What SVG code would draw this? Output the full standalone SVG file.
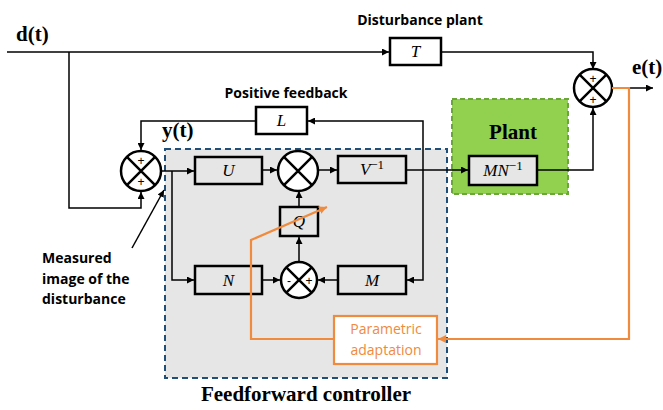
<svg xmlns="http://www.w3.org/2000/svg" width="663" height="410" viewBox="0 0 663 410">
<style>
.blk{fill:#fff;stroke:#000;stroke-width:2.5}
.gblk{fill:#e6e6e6;stroke:#000;stroke-width:2.5}
.ln{fill:none;stroke:#000;stroke-width:1.5}
.or{fill:none;stroke:#f08a3c;stroke-width:2.2}
.sum{fill:#fff;stroke:#000;stroke-width:2.5}
.x{stroke:#000;stroke-width:2.5}
.math{font-family:"Liberation Serif",serif;font-style:italic;font-size:17px;text-anchor:middle}
.big{font-family:"Liberation Serif",serif;font-weight:bold;font-size:21px}
.lab{font-family:"Open Sans","Liberation Sans",sans-serif;font-weight:bold;font-size:14px}
.sg{font-family:"Liberation Sans",sans-serif;font-size:12px;text-anchor:middle}
.ot{font-family:"Open Sans","Liberation Sans",sans-serif;font-size:14px;fill:#f08a3c;text-anchor:middle}
</style>
<defs>
<marker id="ar" viewBox="0 0 10 10" refX="10" refY="5" markerWidth="7" markerHeight="7" markerUnits="userSpaceOnUse" orient="auto"><path d="M0,0L10,5L0,10z" fill="#000"/></marker>
<marker id="ao" viewBox="0 0 10 10" refX="10" refY="5" markerWidth="8" markerHeight="8" markerUnits="userSpaceOnUse" orient="auto"><path d="M0,0L10,5L0,10z" fill="#f08a3c"/></marker>
</defs>
<rect width="663" height="410" fill="#fff"/>

<g id="feedforward">
<rect x="165" y="149" width="282" height="229" fill="#e6e6e6" stroke="#1f4e79" stroke-width="2" stroke-dasharray="6,4"/>
<text class="big" x="306" y="401" text-anchor="middle">Feedforward controller</text>
</g>

<g id="plant">
<rect x="452" y="99" width="116" height="95" fill="#92d050" stroke="#6aa638" stroke-width="2" stroke-dasharray="5,3"/>
<text class="big" x="513" y="139" text-anchor="middle">Plant</text>
</g>

<g id="labels">
<text class="big" x="16" y="41">d(t)</text>
<text class="big" x="632" y="74">e(t)</text>
<text class="big" x="162" y="137">y(t)</text>
<text class="lab" x="420" y="25" text-anchor="middle">Disturbance plant</text>
<text class="lab" x="286" y="98" text-anchor="middle">Positive feedback</text>
<text class="lab" x="42" y="263">Measured</text>
<text class="lab" x="42" y="284">image of the</text>
<text class="lab" x="42" y="304">disturbance</text>
</g>

<g id="T"><rect class="blk" x="390" y="38" width="51" height="27"/><text class="math" x="415.5" y="57">T</text></g>
<g id="L"><rect class="blk" x="256" y="107" width="51" height="27"/><text class="math" x="281.5" y="126">L</text></g>
<g id="U"><rect class="gblk" x="195" y="157" width="67" height="27"/><text class="math" x="228.5" y="176">U</text></g>
<g id="Vinv"><rect class="gblk" x="338" y="156" width="68" height="27"/><text class="math" x="372" y="175">V<tspan font-style="normal" font-size="13" dy="-6">−1</tspan></text></g>
<g id="MNinv"><rect class="gblk" x="469" y="156" width="68" height="29" fill="#92d050"/><text class="math" x="503" y="176">MN<tspan font-style="normal" font-size="13" dy="-6">−1</tspan></text></g>
<g id="Q"><rect class="gblk" x="280" y="207" width="38" height="29"/><text class="math" x="299" y="227">Q</text></g>
<g id="N"><rect class="gblk" x="195" y="266" width="67" height="28"/><text class="math" x="228.5" y="286">N</text></g>
<g id="M"><rect class="gblk" x="338" y="266" width="68" height="28"/><text class="math" x="372" y="286">M</text></g>

<g id="sumLeft">
<circle class="sum" cx="141" cy="171" r="20"/>
<path class="x" d="M126.9,156.9L155.1,185.1M155.1,156.9L126.9,185.1"/>
<text class="sg" x="141" y="165">+</text><text class="sg" x="141" y="186">+</text>
</g>
<g id="sumMid">
<circle class="sum" cx="298" cy="171" r="20"/>
<path class="x" d="M283.9,156.9L312.1,185.1M312.1,156.9L283.9,185.1"/>
</g>
<g id="sumBottom">
<circle class="sum" cx="299" cy="280" r="18"/>
<path class="x" d="M286.3,267.3L311.7,292.7M311.7,267.3L286.3,292.7"/>
<text class="sg" x="289" y="285">-</text><text class="sg" x="309" y="285">+</text>
</g>
<g id="sumRight">
<circle class="sum" cx="593" cy="88" r="19"/>
<path class="x" d="M579.6,74.6L606.4,101.4M606.4,74.6L579.6,101.4"/>
<text class="sg" x="593" y="83">+</text><text class="sg" x="593" y="104">+</text>
</g>

<g id="adaptation">
<rect x="334" y="316" width="103" height="48" fill="#fff" stroke="#f08a3c" stroke-width="2.2"/>
<text class="ot" x="386" y="334">Parametric</text>
<text class="ot" x="386" y="355">adaptation</text>
</g>

<g id="connectors">
<path class="ln" d="M7,52H389" marker-end="url(#ar)"/>
<path class="ln" d="M441,52H593V69" marker-end="url(#ar)"/>
<path class="ln" d="M69,52V208H141V192" marker-end="url(#ar)"/>
<path class="ln" d="M256,121H141V150" marker-end="url(#ar)"/>
<path class="ln" d="M161,171H194" marker-end="url(#ar)"/>
<path class="ln" d="M172,171V280H194" marker-end="url(#ar)"/>
<path class="ln" d="M262,170H277" marker-end="url(#ar)"/>
<path class="ln" d="M318,170H337" marker-end="url(#ar)"/>
<path class="ln" d="M406,170H468" marker-end="url(#ar)"/>
<path class="ln" d="M423,170V121H308" marker-end="url(#ar)"/>
<path class="ln" d="M423,170V280H407" marker-end="url(#ar)"/>
<path class="ln" d="M338,280H318" marker-end="url(#ar)"/>
<path class="ln" d="M262,280H280" marker-end="url(#ar)"/>
<path class="ln" d="M299,262V237" marker-end="url(#ar)"/>
<path class="ln" d="M299,207V191" marker-end="url(#ar)"/>
<path class="ln" d="M537,170H593V108" marker-end="url(#ar)"/>
<path class="ln" d="M612,88H653" marker-end="url(#ar)"/>
<path class="ln" d="M132,248L164,190" stroke-width="2" marker-end="url(#ar)"/>
<path class="or" d="M612,88H629V339H438" marker-end="url(#ao)"/>
<path class="or" d="M334,339H251V240L327,207" marker-end="url(#ao)"/>
</g>
</svg>
